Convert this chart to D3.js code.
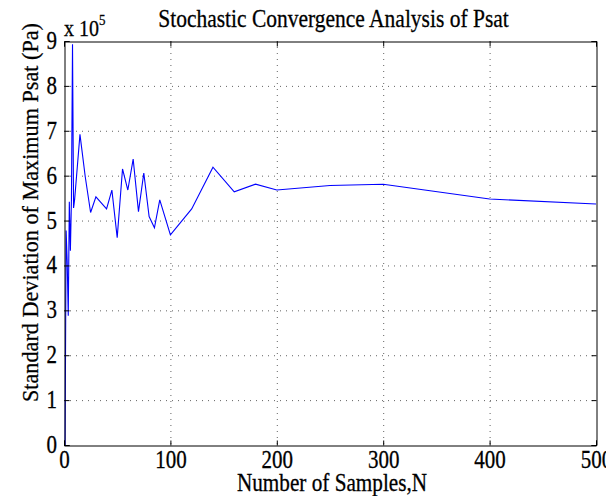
<!DOCTYPE html>
<html>
<head>
<meta charset="utf-8">
<script src="https://cdn.jsdelivr.net/npm/d3@7/dist/d3.min.js"></script>
<style>
  html, body { margin: 0; padding: 0; background: #fff; }
  svg { display: block; }
  text { font-family: "Liberation Serif", "Times New Roman", serif; fill: #000; stroke: #000; stroke-width: 0.25px; }
</style>
</head>
<body>
<svg id="chart" width="606" height="496"></svg>
<script>
// Data (values in units of 1e5 Pa)
const samplesN = [1, 2, 3, 4, 5, 6, 7, 8, 9, 10, 15, 20, 25, 30, 40, 45, 50, 55, 60, 65, 70, 75, 80, 85, 90, 100, 120, 140, 160, 180, 200, 250, 300, 400, 500];
const stdDev   = [0, 4.78, 4.08, 2.88, 5.42, 4.33, 5.47, 8.93, 5.28, 5.47, 6.92, 5.97, 5.18, 5.53, 5.26, 5.68, 4.62, 6.15, 5.68, 6.37, 5.2, 6.06, 5.09, 4.84, 5.46, 4.68, 5.26, 6.19, 5.64, 5.81, 5.68, 5.78, 5.81, 5.48, 5.37];
const xTicks = [0, 100, 200, 300, 400, 500];
const yTicks = [0, 1, 2, 3, 4, 5, 6, 7, 8, 9];
const titleText = "Stochastic Convergence Analysis of Psat";
const xLabel = "Number of Samples,N";
const yLabel = "Standard Deviation of Maximum Psat (Pa)";

const svg = d3.select("#chart");
const L = 64, R = 596, T = 41, B = 445;
const SY = 1.2; // vertical stretch of the reference's glyphs

const x = d3.scaleLinear().domain([0, 500]).range([L, R]);
const y = d3.scaleLinear().domain([0, 9]).range([B, T]);

// grid (dotted)
const grid = svg.append("g");
grid.selectAll("line.gx").data(xTicks.slice(1, -1)).join("line")
  .attr("x1", d => x(d) + 0.5).attr("x2", d => x(d) + 0.5)
  .attr("y1", T).attr("y2", B)
  .attr("stroke", "#222").attr("stroke-width", 1)
  .attr("stroke-dasharray", "1,5").attr("opacity", 0.7);
grid.selectAll("line.gy").data(yTicks.slice(1, -1)).join("line")
  .attr("y1", d => y(d) + 0.5).attr("y2", d => y(d) + 0.5)
  .attr("x1", L).attr("x2", R)
  .attr("stroke", "#222").attr("stroke-width", 1)
  .attr("stroke-dasharray", "1,5").attr("opacity", 0.7);

// data line
const line = d3.line().x((d, i) => x(samplesN[i])).y(d => y(d));
svg.append("path").datum(stdDev)
  .attr("d", line).attr("fill", "none")
  .attr("stroke", "#0000ff").attr("stroke-width", 1.1);

// axes with inward ticks
const tl = 5;
const axB = svg.append("g").attr("transform", `translate(0,${B + 0.5})`)
  .call(d3.axisBottom(x).tickValues(xTicks).tickSize(-tl).tickFormat(d3.format("d")));
const axT = svg.append("g").attr("transform", `translate(0,${T + 0.5})`)
  .call(d3.axisTop(x).tickValues(xTicks).tickSize(-tl).tickFormat(""));
const axL = svg.append("g").attr("transform", `translate(${L + 0.5},0)`)
  .call(d3.axisLeft(y).tickValues(yTicks).tickSize(-tl).tickFormat(d3.format("d")));
const axR = svg.append("g").attr("transform", `translate(${R + 0.5},0)`)
  .call(d3.axisRight(y).tickValues(yTicks).tickSize(-tl).tickFormat(""));

[axB, axT, axL, axR].forEach(g => {
  g.select(".domain").attr("stroke", "#000").attr("stroke-width", 1);
  g.selectAll(".tick line").attr("stroke", "#000");
  g.selectAll(".tick text").style("font-family", '"Liberation Serif", serif').style("font-size", "21px").attr("fill", "#000");
});
axB.selectAll(".tick text").attr("y", null).attr("dy", null)
  .attr("transform", `translate(0,${468 - B - 0.5}) scale(1,${SY})`);
axL.selectAll(".tick text").attr("x", null).attr("dy", null).attr("text-anchor", "end")
  .attr("transform", `translate(${57 - L - 0.5},${7.5}) scale(1,${SY})`);

// exponent label
const ex = svg.append("text").attr("transform", `translate(64,36) scale(1,${SY})`).style("font-size", "20px");
ex.append("tspan").text("x 10");
ex.append("tspan").attr("dy", -9).style("font-size", "13px").text("5");

// title
svg.append("text").attr("transform", `translate(333.5,27) scale(1,${SY})`).attr("text-anchor", "middle")
  .style("font-size", "21.5px").text(titleText);

// x label
svg.append("text").attr("transform", `translate(332,491) scale(1,${SY})`).attr("text-anchor", "middle")
  .style("font-size", "21.2px").text(xLabel);

// y label
svg.append("text").attr("transform", "translate(38,402) rotate(-90)")
  .attr("text-anchor", "start").style("font-size", "22.2px").text(yLabel);
</script>
</body>
</html>
